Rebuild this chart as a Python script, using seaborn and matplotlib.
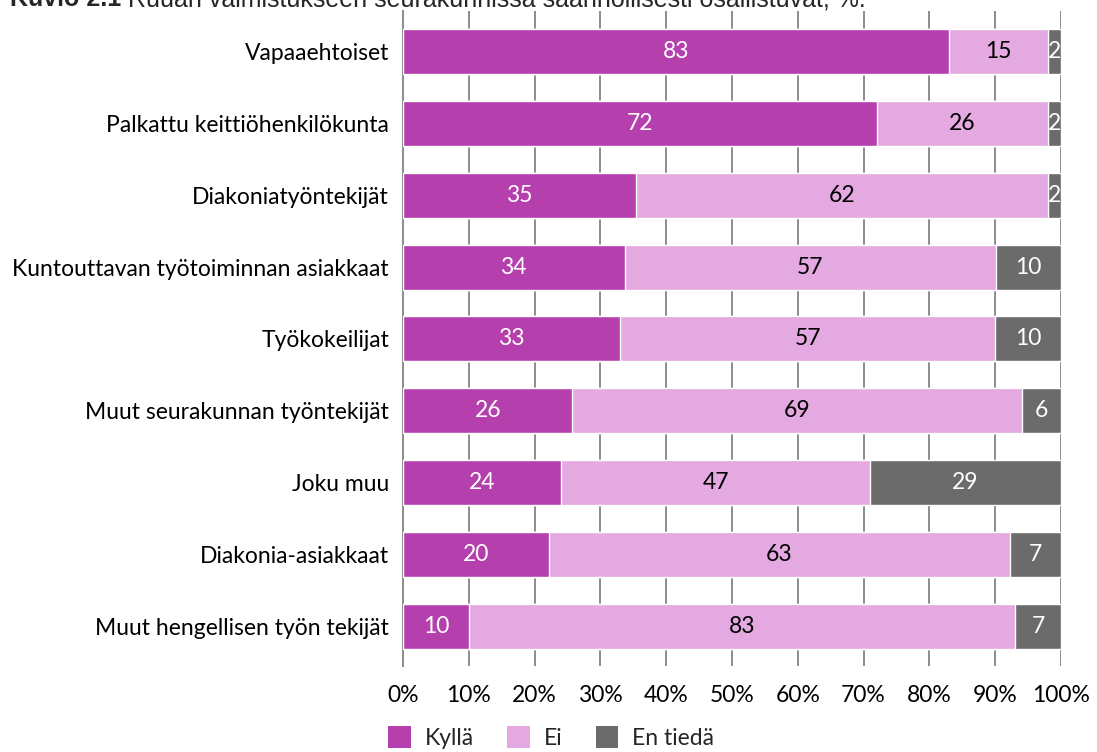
import matplotlib
matplotlib.use("Agg")
import matplotlib.pyplot as plt
import seaborn as sns
import pandas as pd
from matplotlib.patches import Patch
from matplotlib.ticker import MultipleLocator, PercentFormatter

categories = [
    "Vapaaehtoiset",
    "Palkattu keittiöhenkilökunta",
    "Diakoniatyöntekijät",
    "Kuntouttavan työtoiminnan asiakkaat",
    "Työkokeilijat",
    "Muut seurakunnan työntekijät",
    "Joku muu",
    "Diakonia-asiakkaat",
    "Muut hengellisen työn tekijät",
]
kylla = [83, 72, 35, 34, 33, 26, 24, 20, 10]
ei = [15, 26, 62, 57, 57, 69, 47, 63, 83]
en_tieda = [2, 2, 2, 10, 10, 6, 29, 7, 7]
series = ["Kyllä", "Ei", "En tiedä"]
colors = ["#b540ad", "#e4a9e1", "#6b6b6b"]
label_colors = ["white", "black", "white"]

df = pd.DataFrame({"cat": categories, "Kyllä": kylla, "Ei": ei, "En tiedä": en_tieda})
total = df[series].sum(axis=1)
pct = df[series].div(total, axis=0) * 100
cum = pct.cumsum(axis=1)

sns.set_theme(style="white")
plt.rcParams["font.family"] = ["Lato", "DejaVu Sans"]
fs = 16.5

fig = plt.figure(figsize=(10.97, 7.52), dpi=100)
ax = fig.add_axes([403 / 1097, 1 - 666 / 752, 658 / 1097, 655 / 752])

# 100 % stacked bars: draw cumulative totals back to front
for s, c in reversed(list(zip(series, colors))):
    sns.barplot(x=cum[s], y=df["cat"], color=c, width=0.626, ax=ax,
                saturation=1, zorder=3)

for i in range(len(df)):
    for s, lc in zip(series, label_colors):
        mid = cum[s][i] - pct[s][i] / 2
        ax.text(mid, i, str(df[s][i]), ha="center", va="center",
                color=lc, fontsize=fs, zorder=4)

ax.set_xlim(0, 100)
ax.set_ylim(8.55, -0.563)
ax.xaxis.set_major_locator(MultipleLocator(10))
ax.xaxis.set_major_formatter(PercentFormatter(decimals=0))
ax.grid(axis="x", color="#8c8c8c", linewidth=1.4, zorder=0)
for sp in ["top", "right", "bottom"]:
    ax.spines[sp].set_visible(False)
ax.spines["left"].set_color("#8c8c8c")
ax.spines["left"].set_linewidth(1.4)
ax.tick_params(axis="y", length=0, pad=10, labelsize=fs, labelcolor="black")
ax.tick_params(axis="x", length=0, pad=14, labelsize=fs, labelcolor="black")
ax.set_xlabel("")
ax.set_ylabel("")

handles = [Patch(facecolor=c, edgecolor="none") for c in colors]
fig.legend(handles, series, loc="upper left", bbox_to_anchor=(388 / 1097, 1 - 726 / 752),
           ncol=3, frameon=False, fontsize=fs, handlelength=1.0, handleheight=1.1,
           columnspacing=1.45, handletextpad=0.6, borderaxespad=0, borderpad=0)

t1 = fig.text(10 / 1097, 1 - 6 / 752, "Kuvio 2.1 ", fontsize=18, fontweight="bold",
              family="Liberation Sans", va="baseline")
fig.canvas.draw()
bb = t1.get_window_extent()
fig.text(bb.x1 / fig.bbox.width, 1 - 6 / 752,
         "Ruuan valmistukseen seurakunnissa säännöllisesti osallistuvat, %.",
         fontsize=18, family="Liberation Sans", va="baseline")

fig.savefig("out.png", dpi=100)
